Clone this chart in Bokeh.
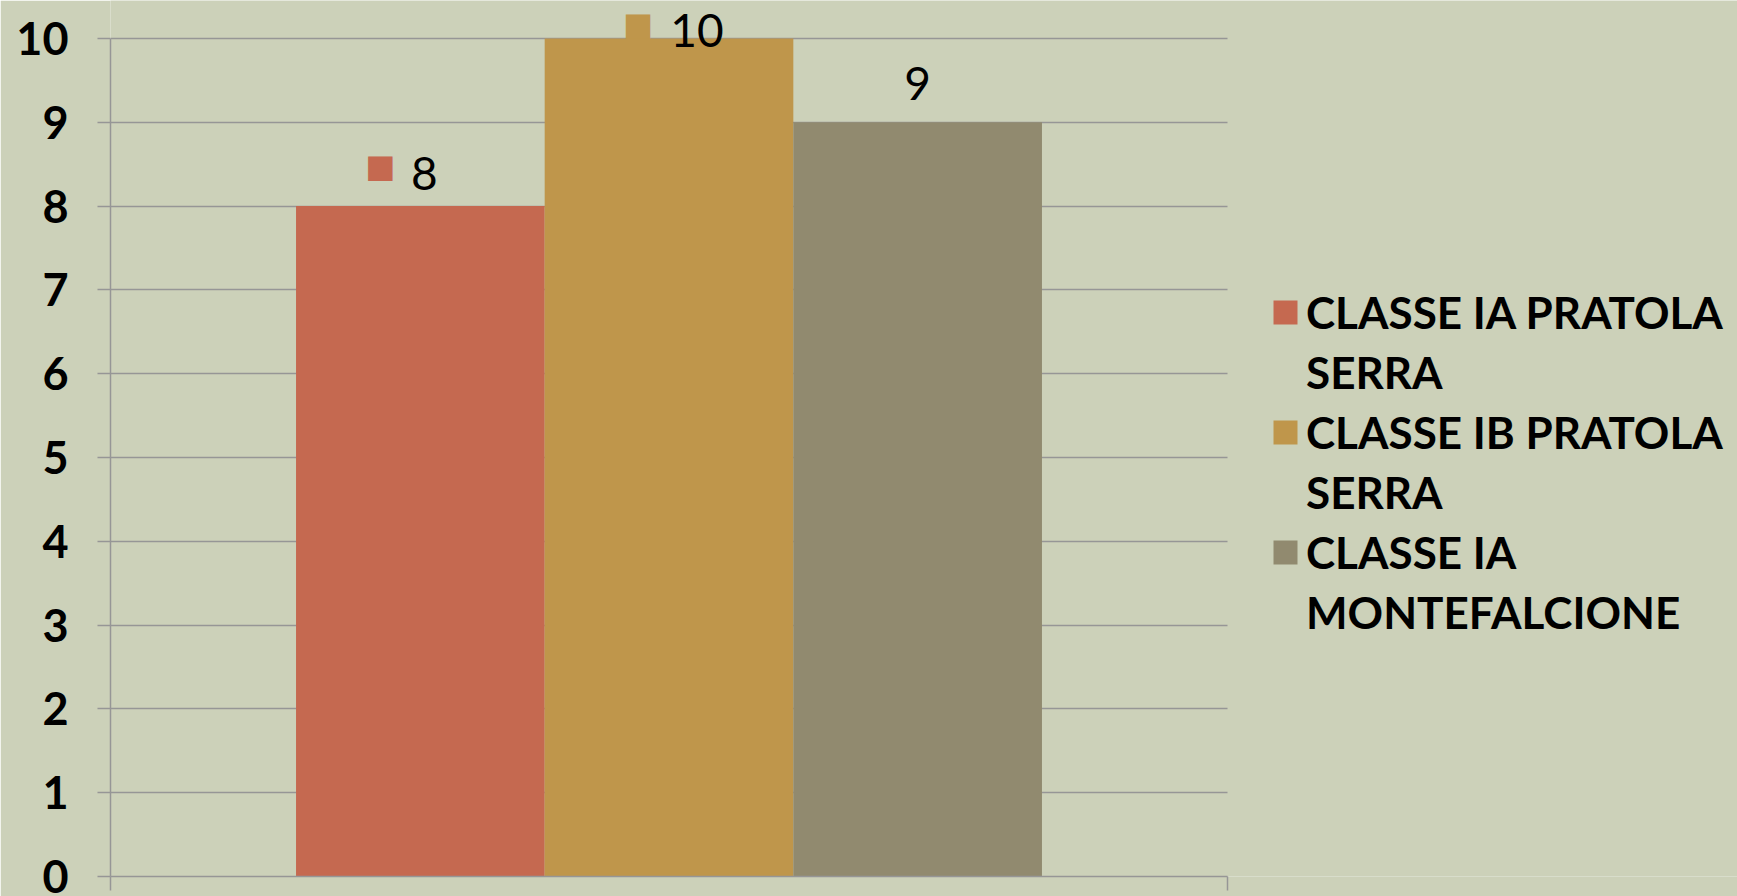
from bokeh.plotting import figure
from bokeh.models import (ColumnDataSource, Range1d, LinearAxis,
                          FixedTicker, Legend, LegendItem, LabelSet)
from bokeh.transform import dodge
from bokeh.embed import file_html
from bokeh.resources import INLINE
from bokeh.core.properties import value

# ---------------- data ----------------
categories = ["Classe"]
series_names = ["CLASSE IA PRATOLA SERRA", "CLASSE IB PRATOLA SERRA", "CLASSE IA MONTEFALCIONE"]
# legend text as shown (wrapped onto two lines)
legend_lines = [["CLASSE IA PRATOLA", "SERRA"],
                ["CLASSE IB PRATOLA", "SERRA"],
                ["CLASSE IA", "MONTEFALCIONE"]]
values = [8, 10, 9]
y_ticks = [0, 1, 2, 3, 4, 5, 6, 7, 8, 9, 10]

# ---------------- style ----------------
colors = ["#C56950", "#BF964B", "#918A6F"]
BG = "#CCD1B9"
GRID = "#969696"
bar_w = 0.2226
offsets = [-bar_w, 0.0, bar_w]
# per-label placement (screen px) of the data labels and their keys
label_dx = [4, 28, 0]
label_dy = [16, -8, 22]
key_dx = [-40, -31, 0]
key_dy = [29, 4, 0]
key_show = [1, 1, 0]

# category slots on a numeric axis: category k occupies [k, k+1]
n_cat = len(categories)
cat_pos = [k + 0.5 for k in range(n_cat)]
cat_edges = list(range(n_cat + 1))
y_max = max(y_ticks)

# plot area spans [0, n_cat]; extra room on the right/top holds legend & labels
x_view_end = n_cat * 1627.0 / 1117.0
y_view_end = y_max * 876.0 / 838.0

p = figure(x_range=Range1d(0, x_view_end),
           y_range=Range1d(0, y_view_end),
           width=1737, height=896,
           min_border_left=110, min_border_right=0,
           min_border_top=0, min_border_bottom=20,
           x_axis_location=None,
           output_backend="svg", toolbar_location=None,
           background_fill_color=BG, border_fill_color=BG)
p.outline_line_color = None
p.xgrid.visible = False

# horizontal gridlines limited to the plot area [0, n_cat]
grid = p.ygrid[0]
if "cross_bounds" in grid.properties():
    grid.ticker = FixedTicker(ticks=y_ticks)
    grid.cross_bounds = (0, n_cat)
    grid.grid_line_color = GRID
    grid.grid_line_width = 1.5
else:
    grid.visible = False
    p.segment(x0=[0] * len(y_ticks), x1=[n_cat] * len(y_ticks),
              y0=y_ticks, y1=y_ticks, line_color=GRID, line_width=1.5,
              level="underlay")

yax = p.yaxis[0]
yax.ticker = FixedTicker(ticks=y_ticks)
yax.bounds = (0, y_max)
yax.axis_line_color = GRID
yax.axis_line_width = 1.5
yax.major_tick_line_color = GRID
yax.major_tick_line_width = 1.5
yax.major_tick_out = 13
yax.major_tick_in = 0
yax.minor_tick_line_color = None
yax.major_label_standoff = 29
yax.major_label_text_font = "Lato"
yax.major_label_text_font_style = "bold"
yax.major_label_text_font_size = "45px"
yax.major_label_text_color = "black"

xax = LinearAxis(ticker=FixedTicker(ticks=cat_edges), bounds=(0, n_cat),
                 axis_line_color=GRID, axis_line_width=1.5,
                 major_tick_line_color=GRID, major_tick_line_width=1.5,
                 major_tick_out=14, major_tick_in=0,
                 minor_tick_line_color=None,
                 major_label_overrides={e: "" for e in cat_edges},
                 major_label_text_font_size="1px", major_label_standoff=0)
p.add_layout(xax, "below")

# invisible renderer: gives continuation lines of the legend an empty key
spacer = p.vbar(x=[], top=[], width=0, fill_alpha=0, line_alpha=0)

items = []
for i in range(3):
    src = ColumnDataSource(dict(cat=categories, xc=cat_pos, val=[values[i]],
                                txt=[str(values[i])],
                                dx=[label_dx[i]], dy=[label_dy[i]],
                                kdx=[key_dx[i]], kdy=[key_dy[i]],
                                key=["\u25A0"], ka=[key_show[i]]))
    # legend key next to the data label (drawn behind the bars)
    keys = LabelSet(x=dodge("xc", offsets[i]), y="val",
                    text="key", x_offset="kdx", y_offset="kdy", source=src,
                    text_align="center", text_baseline="alphabetic",
                    text_font=value("DejaVu Sans"), text_font_size="32px",
                    text_color=colors[i], text_alpha="ka", level="underlay")
    p.add_layout(keys)
    r = p.vbar(x=dodge("xc", offsets[i]), top="val",
               width=bar_w, source=src, fill_color=colors[i], line_color=None)
    labels = LabelSet(x=dodge("xc", offsets[i]), y="val",
                      text="txt", x_offset="dx", y_offset="dy", source=src,
                      text_align="center", text_baseline="alphabetic",
                      text_font=value("Lato"), text_font_size="46px",
                      text_color="black")
    p.add_layout(labels)
    items.append(LegendItem(label=legend_lines[i][0], renderers=[r]))
    for extra in legend_lines[i][1:]:
        items.append(LegendItem(label=extra, renderers=[spacer]))

legend = Legend(items=items, location=(1160, 238),
                padding=0, margin=0, spacing=8,
                glyph_width=30, glyph_height=30, label_standoff=6,
                label_text_font="Lato",
                label_text_font_style="bold", label_text_font_size="44px",
                label_text_color="black",
                background_fill_alpha=0, border_line_color=None)
p.add_layout(legend)

html = file_html(p, INLINE)
html = html.replace("<body>", '<body style="background-color:%s">' % BG, 1)
open("out.html", "w").write(html)
